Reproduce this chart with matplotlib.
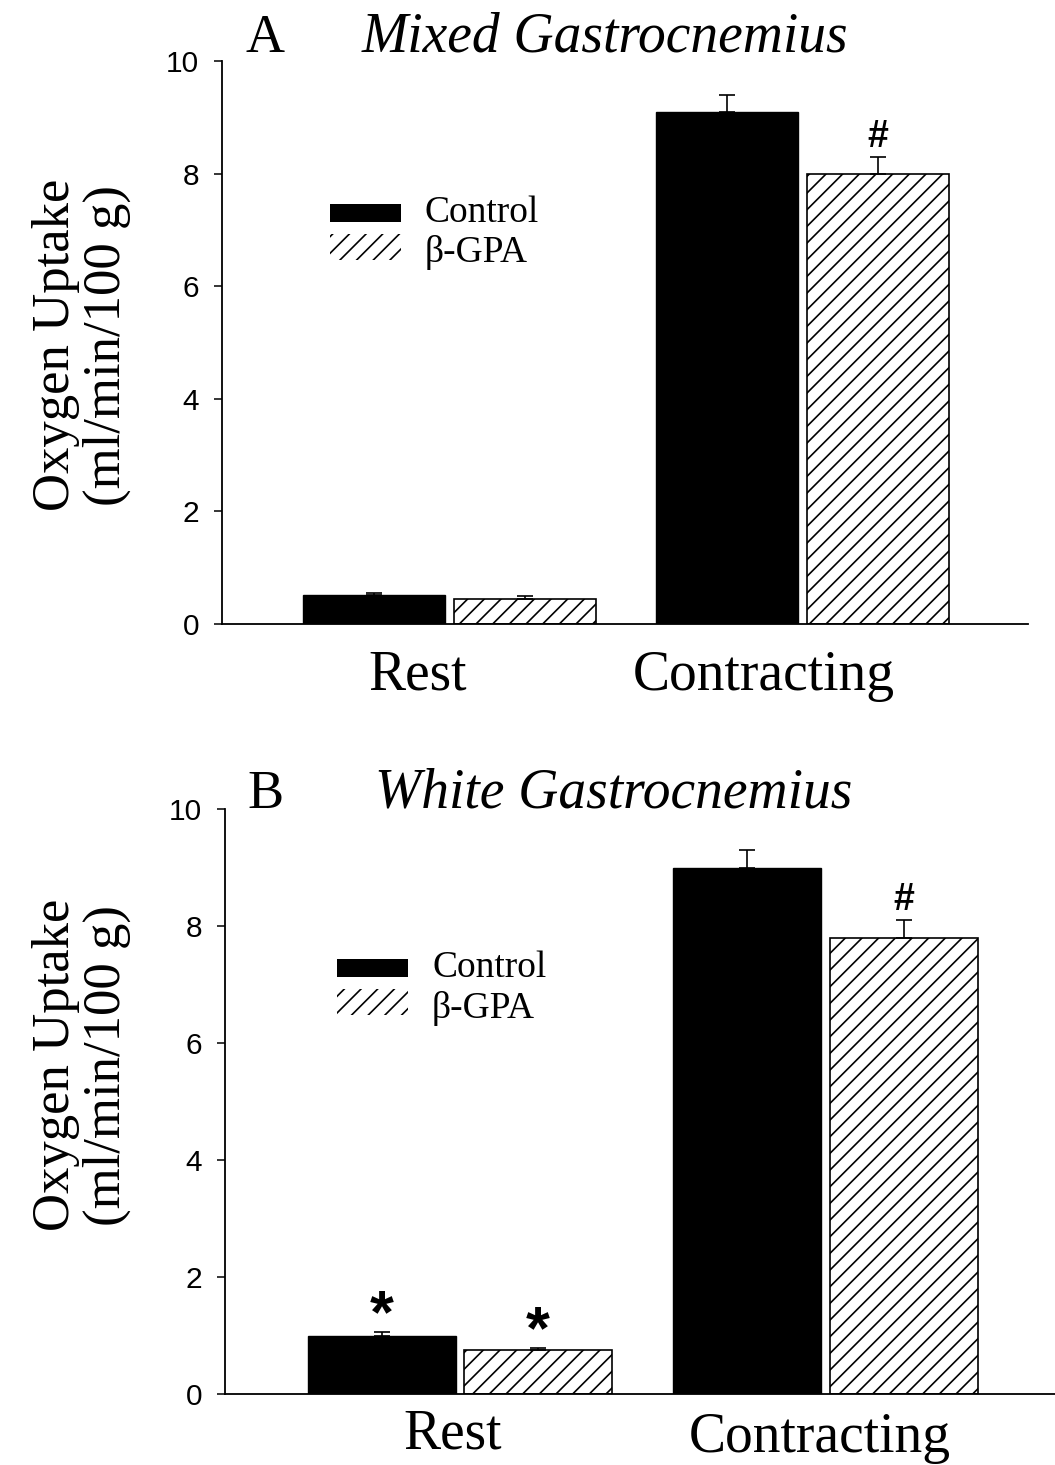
import numpy as np
import matplotlib
matplotlib.use('Agg')
import matplotlib.pyplot as plt
from matplotlib.patches import Rectangle
import matplotlib.transforms as mtransforms

# ---------------------------------------------------------------------------
# data
conditions = ['Rest', 'Contracting']

mixed_control = [0.51, 9.1]
mixed_control_err = [0.04, 0.3]
mixed_gpa = [0.44, 8.0]
mixed_gpa_err = [0.06, 0.3]
mixed_marks_control = ['', '']
mixed_marks_gpa = ['', '#']

white_control = [1.0, 9.0]
white_control_err = [0.06, 0.3]
white_gpa = [0.75, 7.8]
white_gpa_err = [0.04, 0.3]
white_marks_control = ['*', '']
white_marks_gpa = ['*', '#']

yticks = [0, 2, 4, 6, 8, 10]

# ---------------------------------------------------------------------------
W, H = 1055, 1465
SERIF = 'Liberation Serif'
SANS = 'Liberation Sans'
plt.rcParams['hatch.linewidth'] = 1.2
plt.rcParams['font.family'] = [SANS, 'DejaVu Sans']

fig = plt.figure(figsize=(W / 100, H / 100), dpi=100)


def fx(px):
    return px / W


def fy(py):
    return 1 - py / H


def draw_panel(rect, ctrl, ctrl_err, gpa, gpa_err, marks_c, marks_g,
               width, gap, xlim, label_x, label_y):
    left, top, right, bottom = rect
    ax = fig.add_axes([fx(left), fy(bottom), fx(right) - fx(left), fy(top) - fy(bottom)])
    x = np.arange(len(conditions))
    off = (width + gap) / 2
    ekw = dict(ecolor='black', elinewidth=1.2, capsize=5.8, capthick=1.2)
    ax.bar(x - off, ctrl, width, color='black', edgecolor='black', linewidth=1.0,
           yerr=[np.zeros(len(ctrl)), ctrl_err], error_kw=ekw, zorder=2)
    ax.bar(x + off, gpa, width, color='white', edgecolor='black', linewidth=1.2,
           hatch='//', yerr=[np.zeros(len(gpa)), gpa_err], error_kw=ekw, zorder=2)

    # significance marks
    for xs, vals, errs, marks in [(x - off, ctrl, ctrl_err, marks_c),
                                  (x + off, gpa, gpa_err, marks_g)]:
        for xi, v, e, m in zip(xs, vals, errs, marks):
            if m == '*':
                ax.annotate(m, (xi, v + e), xytext=(0, 0), textcoords='offset points',
                            ha='center', va='baseline', fontsize=44, family=SANS,
                            weight='bold')
            elif m:
                ax.annotate(m, (xi, v + e), xytext=(0, 7), textcoords='offset points',
                            ha='center', va='baseline', fontsize=27, family=SANS,
                            weight='bold')

    ax.set_xlim(*xlim)
    ax.set_ylim(0, 10)
    ax.set_yticks(yticks)
    ax.set_xticks([])
    ax.tick_params(axis='y', direction='out', length=5.5, width=1.1, pad=11, labelsize=21.5)
    for s in ['top', 'right']:
        ax.spines[s].set_visible(False)
    for s in ['left', 'bottom']:
        ax.spines[s].set_linewidth(1.3)

    trans = mtransforms.blended_transform_factory(ax.transData, ax.transAxes)
    for lx, ly, name in zip(label_x, label_y, conditions):
        ax.text(lx, ly, name, transform=trans, ha='center', va='baseline',
                fontsize=40, family=SERIF)
    return ax


# panel A
draw_panel((222, 61, 1028, 624), mixed_control, mixed_control_err, mixed_gpa, mixed_gpa_err,
           mixed_marks_control, mixed_marks_gpa, width=0.403, gap=0.026,
           xlim=(-0.645, 1.639), label_x=[-0.091, 0.889], label_y=[-0.117, -0.117])

# panel B
draw_panel((225, 809, 1055, 1394), white_control, white_control_err, white_gpa, white_gpa_err,
           white_marks_control, white_marks_gpa, width=0.405, gap=0.022,
           xlim=(-0.643, 1.628), label_x=[-0.019, 0.985], label_y=[-0.094, -0.099])

# titles
for letter, lx, name, nx, base in [('A', 245, 'Mixed Gastrocnemius', 362, 52),
                                   ('B', 247, 'White Gastrocnemius', 375, 808)]:
    fig.text(fx(lx), fy(base), letter, ha='left', va='baseline', fontsize=39, family=SERIF)
    fig.text(fx(nx), fy(base), name, ha='left', va='baseline', fontsize=40,
             family=SERIF, style='italic')

# y labels
for cy in [345, 1065]:
    fig.text(fx(56), fy(cy), 'Oxygen Uptake', rotation=90, ha='center', va='center',
             fontsize=38, family=SERIF)
    fig.text(fx(107), fy(cy), '(ml/min/100 g)', rotation=90, ha='center', va='center',
             fontsize=38, family=SERIF)

# legends
for lx, ly, tx in [(330, 204, 425), (337, 959, 432)]:
    fig.add_artist(Rectangle((fx(lx), fy(ly + 18)), fx(71), 18 / H,
                             transform=fig.transFigure, facecolor='black', edgecolor='none'))
    fig.add_artist(Rectangle((fx(lx), fy(ly + 56)), fx(71), 26 / H,
                             transform=fig.transFigure, facecolor='none', edgecolor='black',
                             linewidth=0, hatch='//'))
    fig.text(fx(tx), fy(ly + 9), 'Control', ha='left', va='center', fontsize=27, family=SERIF)
    fig.text(fx(tx), fy(ly + 49), 'β-GPA', ha='left', va='center', fontsize=27, family=SERIF)

fig.savefig('out.png', dpi=100)
